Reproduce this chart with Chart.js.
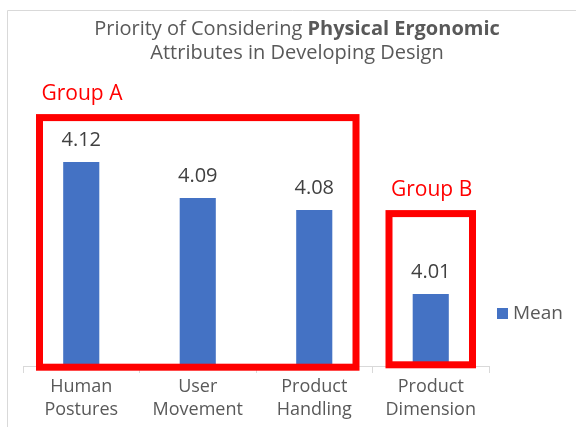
<!DOCTYPE html>
<html>
<head>
<meta charset="utf-8">
<script src="https://cdn.jsdelivr.net/npm/chart.js@4.4.1/dist/chart.umd.min.js"></script>
<style>
  html, body { margin: 0; padding: 0; background: #fff; }
  #wrap { position: relative; width: 576px; height: 427px; }
</style>
</head>
<body>
<div id="wrap"><canvas id="ergoChart" width="576" height="427"></canvas></div>
<script>
const categories = [['Human', 'Postures'], ['User', 'Movement'], ['Product', 'Handling'], ['Product', 'Dimension']];
const meanValues = [4.12, 4.09, 4.08, 4.01];
const seriesName = 'Mean';
const groupNames = ['Group A', 'Group B'];
const groupMembers = [[0, 1, 2], [3]];

const FONT = '"Open Sans", sans-serif';

// title (mixed bold), value labels, group boxes, legend, frame
const decorPlugin = {
    id: 'decor',
    afterDraw(chart) {
        const ctx = chart.ctx;
        const xs = chart.scales.x;
        const ys = chart.scales.y;
        const meta = chart.getDatasetMeta(0);
        ctx.save();

        // frame of the original chart object
        ctx.strokeStyle = '#d9d9d9';
        ctx.lineWidth = 1;
        ctx.beginPath();
        ctx.moveTo(7.5, 430);
        ctx.lineTo(7.5, 10.5);
        ctx.lineTo(580, 10.5);
        ctx.stroke();

        // title
        const cx = 297;
        ctx.fillStyle = '#595959';
        ctx.textBaseline = 'middle';
        const part1 = 'Priority of Considering ';
        const part2 = 'Physical Ergonomic';
        ctx.font = '20px ' + FONT;
        const w1 = ctx.measureText(part1).width;
        ctx.font = 'bold 20px ' + FONT;
        const w2 = ctx.measureText(part2).width;
        let x0 = cx - (w1 + w2) / 2;
        ctx.textAlign = 'left';
        ctx.font = '20px ' + FONT;
        ctx.fillText(part1, x0, 29);
        ctx.font = 'bold 20px ' + FONT;
        ctx.fillText(part2, x0 + w1, 29);
        ctx.font = '20px ' + FONT;
        ctx.textAlign = 'center';
        ctx.fillText('Attributes in Developing Design', cx, 53);

        // value labels
        ctx.fillStyle = '#404040';
        ctx.font = '20px ' + FONT;
        meta.data.forEach((bar, i) => {
            ctx.fillText(meanValues[i].toFixed(2), bar.x, bar.y - 22);
        });

        // group boxes
        const half = (xs.getPixelForValue(1) - xs.getPixelForValue(0)) / 2;
        const boxTops = [4.157, 4.077];
        const boxBottoms = [3.949, 3.951];
        ctx.strokeStyle = '#ff0000';
        ctx.lineWidth = 7;
        groupMembers.forEach((members, g) => {
            const first = members[0];
            const last = members[members.length - 1];
            const left = xs.getPixelForValue(first) - half + 16.5;
            const right = xs.getPixelForValue(last) + half - 16.5;
            const top = ys.getPixelForValue(boxTops[g]);
            const bottom = ys.getPixelForValue(boxBottoms[g]);
            ctx.strokeRect(left, top, right - left, bottom - top);
            ctx.fillStyle = '#ff0000';
            ctx.font = '21px ' + FONT;
            ctx.textAlign = 'left';
            ctx.fillText(groupNames[g], left + 2, top - 24);
        });

        // legend
        ctx.fillStyle = '#4472c4';
        ctx.fillRect(497, 308, 11, 11);
        ctx.fillStyle = '#595959';
        ctx.font = '19px ' + FONT;
        ctx.textAlign = 'left';
        ctx.fillText(seriesName, 513, 314);

        ctx.restore();
    }
};

new Chart(document.getElementById('ergoChart'), {
    type: 'bar',
    data: {
        labels: categories,
        datasets: [{
            label: seriesName,
            data: meanValues,
            backgroundColor: '#4472c4',
            categoryPercentage: 1,
            barPercentage: 0.31
        }]
    },
    options: {
        responsive: false,
        animation: false,
        layout: {
            padding: { left: 23, right: 87, top: 66, bottom: 0 }
        },
        plugins: {
            legend: { display: false },
            title: { display: false },
            tooltip: { enabled: false }
        },
        scales: {
            x: {
                afterFit(scale) { scale.height = 61; },
                border: { display: true, color: '#d9d9d9', width: 1 },
                grid: {
                    offset: true,
                    drawOnChartArea: false,
                    drawTicks: true,
                    tickLength: 7,
                    color: '#d9d9d9'
                },
                ticks: {
                    color: '#595959',
                    padding: 3,
                    maxRotation: 0,
                    autoSkip: false,
                    font: { family: FONT, size: 18, lineHeight: 1.25 }
                }
            },
            y: {
                display: false,
                min: 3.95,
                max: 4.2
            }
        }
    },
    plugins: [decorPlugin]
});
</script>
</body>
</html>
